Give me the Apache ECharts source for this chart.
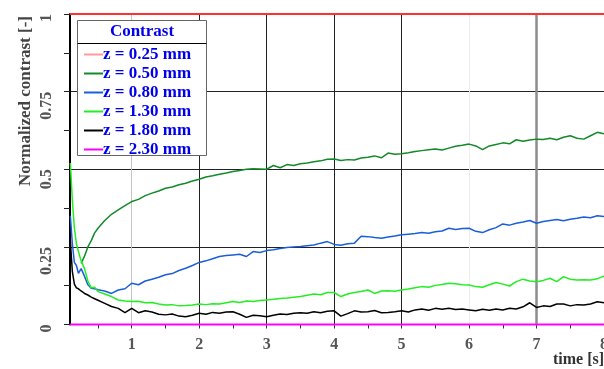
<!DOCTYPE html>
<html><head><meta charset="utf-8">
<script src="https://cdn.jsdelivr.net/npm/echarts@6/dist/echarts.min.js"></script>
<style>html,body{margin:0;padding:0;background:#fff}#c{width:604px;height:369px}</style>
</head><body><div id="c"></div>
<script>
var times = [0.09,0.12,0.15,0.18,0.21,0.25,0.3,0.35,0.4,0.45,
0.5,0.6,0.7,0.8,0.9,1.0,1.1,1.2,1.3,1.4,
1.5,1.6,1.7,1.8,1.9,2.0,2.1,2.2,2.3,2.4,
2.5,2.6,2.7,2.8,2.9,3.0,3.1,3.2,3.3,3.4,
3.5,3.6,3.7,3.8,3.9,4.0,4.1,4.2,4.3,4.4,
4.5,4.6,4.7,4.8,4.9,5.0,5.1,5.2,5.3,5.4,
5.5,5.6,5.7,5.8,5.9,6.0,6.1,6.2,6.3,6.4,
6.5,6.6,6.7,6.8,6.9,7.0,7.1,7.2,7.3,7.4,
7.5,7.6,7.7,7.8,7.9,8.0];
var flatTimes = [0.085, 8];
var z025 = [1, 1];
var z230 = [0, 0];
var z050 = [null,null,null,null,null,0.197,0.22,0.25,0.27,0.295,
0.31,0.335,0.355,0.369,0.383,0.396,0.403,0.415,0.423,0.43,
0.439,0.443,0.45,0.455,0.462,0.468,0.475,0.479,0.484,0.488,
0.493,0.496,0.5,0.502,0.501,0.5,0.512,0.505,0.515,0.512,
0.518,0.52,0.524,0.527,0.532,0.533,0.528,0.531,0.53,0.536,
0.539,0.543,0.537,0.552,0.548,0.55,0.553,0.557,0.56,0.563,
0.565,0.562,0.568,0.574,0.577,0.581,0.575,0.563,0.575,0.58,
0.585,0.582,0.595,0.59,0.594,0.597,0.596,0.6,0.595,0.603,
0.608,0.6,0.597,0.608,0.619,0.614];
var z080 = [0.35,0.26,0.2,0.19,0.165,0.18,0.155,0.128,0.117,0.115,
0.112,0.108,0.1,0.111,0.115,0.133,0.128,0.14,0.146,0.152,
0.16,0.164,0.174,0.181,0.19,0.2,0.205,0.212,0.219,0.222,
0.224,0.226,0.219,0.235,0.232,0.238,0.241,0.245,0.248,0.25,
0.251,0.254,0.256,0.262,0.267,0.258,0.255,0.26,0.262,0.284,
0.283,0.28,0.278,0.282,0.285,0.289,0.291,0.293,0.296,0.294,
0.299,0.301,0.31,0.306,0.309,0.31,0.3,0.296,0.305,0.312,
0.324,0.32,0.326,0.33,0.335,0.326,0.332,0.335,0.338,0.334,
0.339,0.342,0.346,0.344,0.35,0.348];
var z130 = [0.52,0.40,0.31,0.26,0.235,0.205,0.18,0.14,0.118,0.12,
0.106,0.098,0.09,0.079,0.076,0.074,0.075,0.07,0.071,0.066,
0.063,0.064,0.06,0.061,0.063,0.066,0.064,0.067,0.066,0.07,
0.074,0.071,0.076,0.074,0.077,0.079,0.081,0.084,0.085,0.088,
0.09,0.094,0.098,0.096,0.103,0.103,0.09,0.098,0.103,0.106,
0.111,0.1,0.108,0.109,0.107,0.111,0.114,0.118,0.122,0.12,
0.126,0.129,0.133,0.131,0.128,0.127,0.122,0.12,0.128,0.135,
0.13,0.124,0.138,0.146,0.14,0.138,0.142,0.149,0.138,0.154,
0.146,0.143,0.144,0.143,0.147,0.156];
var z180 = [0.27,0.17,0.13,0.118,0.115,0.108,0.1,0.095,0.088,0.083,
0.078,0.068,0.058,0.052,0.038,0.052,0.038,0.044,0.04,0.033,
0.031,0.034,0.027,0.025,0.03,0.036,0.033,0.039,0.036,0.04,
0.041,0.033,0.023,0.03,0.028,0.025,0.03,0.034,0.032,0.036,
0.038,0.036,0.041,0.038,0.043,0.044,0.027,0.035,0.044,0.04,
0.041,0.045,0.038,0.039,0.041,0.044,0.04,0.047,0.05,0.046,
0.052,0.049,0.052,0.048,0.05,0.047,0.044,0.049,0.046,0.05,
0.047,0.052,0.05,0.057,0.07,0.055,0.06,0.058,0.066,0.066,
0.06,0.064,0.063,0.066,0.073,0.07];
var xLabels = [1,2,3,4,5,6,7,8];
var xTicks = [0.5,1,1.5,2,2.5,3,3.5,4,4.5,5,5.5,6,6.5,7,7.5,8];
var seriesNames = ['z = 0.25 mm','z = 0.50 mm','z = 0.80 mm','z = 1.30 mm','z = 1.80 mm','z = 2.30 mm'];
var legendTitle = 'Contrast';
var yName = 'Normalized contrast [-]';
var xName = 'time [s]';

function pairs(t, v) {
  var out = [];
  for (var i = 0; i < t.length; i++) if (v[i] !== null) out.push([t[i], v[i]]);
  return out;
}
var FONT = '"Liberation Serif", "Times New Roman", serif';
var chart = echarts.init(document.getElementById('c'), null, {renderer: 'canvas'});
var colors = ['#ff3030', '#138a2a', '#1a5fd8', '#22ee22', '#000000', '#ff00ff'];
function lineSeries(name, data, color, width, z, clip) {
  return {name: name, type: 'line', data: data, showSymbol: false, symbol: 'none',
    lineStyle: {color: color, width: width}, itemStyle: {color: color}, z: z, clip: clip,
    animation: false};
}
var series = [
  {type: 'line', data: [], silent: true, z: 1,
    markLine: {silent: true, symbol: 'none', z: 1, label: {show: false}, animation: false,
      data: [
        {xAxis: 1, lineStyle: {color: '#c4c4c4', width: 1, type: 'solid'}},
        {xAxis: 2, lineStyle: {color: '#222', width: 1, type: 'solid'}},
        {xAxis: 3, lineStyle: {color: '#222', width: 1, type: 'solid'}},
        {xAxis: 4, lineStyle: {color: '#222', width: 1, type: 'solid'}},
        {xAxis: 5, lineStyle: {color: '#222', width: 1, type: 'solid'}},
        {xAxis: 6, lineStyle: {color: '#ececec', width: 1, type: 'solid'}},
        {xAxis: 7, lineStyle: {color: '#8c8c8c', width: 2.5, type: 'solid'}}
      ]}},
  lineSeries(seriesNames[0], pairs(flatTimes, z025), colors[0], 2, 5, false),
  lineSeries(seriesNames[1], pairs(times, z050), colors[1], 1.5, 5, true),
  lineSeries(seriesNames[2], pairs(times, z080), colors[2], 1.5, 5, true),
  lineSeries(seriesNames[3], pairs(times, z130), colors[3], 1.5, 5, true),
  lineSeries(seriesNames[4], pairs(times, z180), colors[4], 1.5, 5, true),
  lineSeries(seriesNames[5], pairs(flatTimes, z230), colors[5], 2, 5, false)
];
var legendData = seriesNames.map(function (n, i) {
  var c = i === 0 ? '#ff9a9a' : colors[i];
  return {name: n, itemStyle: {color: c}};
});
chart.setOption({
  animation: false,
  grid: {left: 70, right: 0, top: 14, bottom: 44.5, containLabel: false, outerBoundsMode: 'none'},
  xAxis: {
    type: 'value', min: 0.085, max: 8,
    axisLine: {show: false},
    axisTick: {show: true, customValues: xTicks, length: 4, lineStyle: {color: '#333', width: 1}},
    axisLabel: {customValues: xLabels, showMaxLabel: true, hideOverlap: false, margin: 12, color: '#555',
      fontFamily: FONT, fontWeight: 'bold', fontSize: 16},
    splitLine: {show: false}
  },
  yAxis: {
    type: 'value', min: 0, max: 1, interval: 0.25,
    axisLine: {show: true, lineStyle: {color: '#000', width: 2}},
    axisTick: {show: true, length: 6, lineStyle: {color: '#222'}},
    minorTick: {show: true, splitNumber: 2, length: 6, lineStyle: {color: '#222'}},
    axisLabel: {rotate: 90, align: 'right', verticalAlign: 'middle', margin: 23, color: '#555',
      fontFamily: FONT, fontWeight: 'bold', fontSize: 16},
    splitLine: {show: true, lineStyle: {color: '#222', width: 1}}
  },
  legend: {
    orient: 'vertical', left: 79, top: 41, z: 120,
    icon: 'rect', itemWidth: 19, itemHeight: 2, itemGap: 2,
    data: legendData, selectedMode: false,
    textStyle: {color: '#0000ee', fontFamily: FONT, fontWeight: 'bold', fontSize: 17, lineHeight: 17, padding: [0, 0, 0, -5]}
  },
  graphic: [
    {type: 'rect', z: 100, shape: {x: 77.5, y: 20.5, width: 129, height: 135},
      style: {fill: '#fff', stroke: '#666', lineWidth: 1}},
    {type: 'line', z: 101, shape: {x1: 77.5, y1: 43.5, x2: 206.5, y2: 43.5},
      style: {stroke: '#000', lineWidth: 1}},
    {type: 'text', z: 101, x: 142, y: 32,
      style: {text: legendTitle, fill: '#0000ee', font: 'bold 17px ' + FONT, align: 'center', verticalAlign: 'middle'}},
    {type: 'text', z: 101, x: 26, y: 101, rotation: Math.PI / 2,
      style: {text: yName, fill: '#444', font: 'bold 17px ' + FONT, align: 'center', verticalAlign: 'middle'}},
    {type: 'text', z: 101, x: 553, y: 360,
      style: {text: xName, fill: '#333', font: 'bold 16px ' + FONT, align: 'left', verticalAlign: 'middle'}}
  ],
  series: series
});
</script></body></html>
